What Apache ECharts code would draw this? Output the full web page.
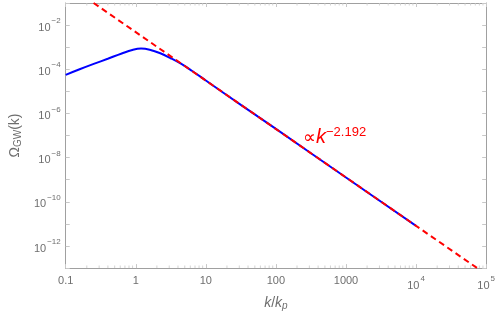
<!DOCTYPE html>
<html><head><meta charset="utf-8">
<script src="https://cdn.jsdelivr.net/npm/echarts@6/dist/echarts.min.js"></script>
<style>html,body{margin:0;padding:0;background:#fff}#c{width:498px;height:316px}</style>
</head><body><div id="c"></div>
<script>
// Blue curve: Omega_GW(k)
const blueK = [0.1, 0.158, 0.251, 0.398, 0.631, 0.891, 1.19, 1.58, 2.24, 3.16, 4.47, 6.31, 10, 31.6, 100, 1000, 10000];
const blueOmega = [5.6e-5, 1.0e-4, 1.75e-4, 3.0e-4, 5.2e-4, 7.5e-4, 8.7e-4, 7.7e-4, 5.3e-4, 3.16e-4, 1.75e-4, 8.6e-5, 3.1e-5, 2.45e-6, 2.0e-7, 1.26e-9, 8.1e-12];
// Red dashed power-law fit (endpoints where it leaves the frame)
const fitK = [0.25, 74500];
const fitOmega = [0.1, 1e-13];
const slopeText = '−2.192';
// Axis ticks
const xMinorTicks = [0.2,0.3,0.4,0.5,0.6,0.7,0.8,0.9, 2,3,4,5,6,7,8,9, 20,30,40,50,60,70,80,90, 200,300,400,500,600,700,800,900, 2000,3000,4000,5000,6000,7000,8000,9000, 20000,30000,40000,50000,60000,70000,80000,90000];
const yMin = 1e-13, yMax = 1e-1;
const xMin = 0.1, xMax = 1e5;

const frameGray = '#a0a0a0';
const tickGray = '#c8c8c8';
const labelGray = '#6e6e6e';
const fontFam = 'Liberation Sans, Arial, sans-serif';

function expOf(v){ return Math.round(Math.log10(v)); }
function supLabel(e){
  const s = e < 0 ? '−' + Math.abs(e) : String(e);
  return '{b|10}{s|' + s + '}';
}
const rich = {
  b: {fontSize: 11, color: labelGray, fontFamily: fontFam, verticalAlign: 'bottom', lineHeight: 16},
  s: {fontSize: 8, color: labelGray, fontFamily: fontFam, verticalAlign: 'top', lineHeight: 16, padding: [0,0,0,1]}
};

const chart = echarts.init(document.getElementById('c'), null, {renderer: 'canvas'});
const baseX = {
  type: 'log', logBase: 10, min: xMin, max: xMax,
  axisLine: {lineStyle: {color: frameGray, width: 1}},
  axisTick: {inside: true, length: 4, lineStyle: {color: tickGray}},
  splitLine: {show: false}
};
const baseY = {
  type: 'log', logBase: 10, min: yMin, max: yMax, interval: 1, splitNumber: 12,
  axisLine: {lineStyle: {color: frameGray, width: 1}},
  axisTick: {inside: true, length: 4, lineStyle: {color: tickGray}},
  splitLine: {show: false}
};
chart.setOption({
  animation: false,
  grid: {left: 55, right: 11, top: 3, bottom: 45, containLabel: false},
  xAxis: [
    Object.assign({}, baseX, {
      position: 'bottom',
      name: '{i|k}{n|/}{i|k}{p|p}', nameLocation: 'middle', nameGap: 26,
      nameTextStyle: {rich: {
        i: {fontSize: 14, fontStyle: 'italic', color: labelGray, fontFamily: fontFam},
        n: {fontSize: 14, color: labelGray, fontFamily: fontFam},
        p: {fontSize: 10, fontStyle: 'italic', color: labelGray, fontFamily: fontFam, verticalAlign: 'bottom', padding: [6,0,0,0]}
      }},
      axisLabel: {margin: 7, color: labelGray, fontSize: 11, fontFamily: fontFam, rich: rich,
        formatter: function(v){ const e = expOf(v); if (e <= 3) return String(Math.pow(10, e) < 1 ? '0.1' : Math.round(Math.pow(10, e))); return supLabel(e); }}
    }),
    Object.assign({}, baseX, {position: 'top', axisLabel: {show: false}})
  ],
  yAxis: [
    Object.assign({}, baseY, {
      position: 'left',
      name: 'Ω{s|GW}(k)', nameLocation: 'middle', nameGap: 40, nameRotate: 90,
      nameTextStyle: {fontSize: 14, color: labelGray, fontFamily: fontFam, rich: {
        s: {fontSize: 10, color: labelGray, fontFamily: fontFam, verticalAlign: 'bottom', padding: [6,0,0,0]}
      }},
      axisLabel: {margin: 5, color: labelGray, fontSize: 11, fontFamily: fontFam, rich: rich,
        formatter: function(v){ const e = expOf(v); if (e % 2 !== 0 || e === -13 || e === -1) return ''; return supLabel(e); }}
    }),
    Object.assign({}, baseY, {position: 'right', axisLabel: {show: false}})
  ],
  graphic: [{
    type: 'text', left: 303, top: 126, silent: true,
    style: {
      text: '{a|∝}{k|k}{e|' + slopeText + '}',
      rich: {
        a: {fontSize: 18, fill: '#ff0000', fontFamily: fontFam, verticalAlign: 'bottom', lineHeight: 21},
        k: {fontSize: 20, fontStyle: 'italic', fill: '#ff0000', fontFamily: fontFam, verticalAlign: 'bottom', lineHeight: 21},
        e: {fontSize: 13, fill: '#ff0000', fontFamily: fontFam, verticalAlign: 'top', lineHeight: 21}
      }
    }
  }],
  series: [
    {
      type: 'line', name: 'omega', showSymbol: false, smooth: 0.4, clip: true,
      data: blueK.map((k, i) => [k, blueOmega[i]]),
      lineStyle: {color: '#0000ff', width: 2}
    },
    {
      type: 'line', name: 'fit', showSymbol: false, clip: true,
      data: fitK.map((k, i) => [k, fitOmega[i]]),
      lineStyle: {color: '#ff0000', width: 2, type: [6, 4]}
    },
    {
      type: 'scatter', xAxisIndex: 0, yAxisIndex: 0, clip: false, silent: true,
      data: xMinorTicks.map(k => [k, yMin]),
      symbol: 'rect', symbolSize: [1, 2.5], symbolOffset: [0, -1.25],
      itemStyle: {color: tickGray}
    },
    {
      type: 'scatter', xAxisIndex: 0, yAxisIndex: 0, clip: false, silent: true,
      data: xMinorTicks.map(k => [k, yMax]),
      symbol: 'rect', symbolSize: [1, 2.5], symbolOffset: [0, 1.25],
      itemStyle: {color: tickGray}
    }
  ]
});
</script>
</body></html>
